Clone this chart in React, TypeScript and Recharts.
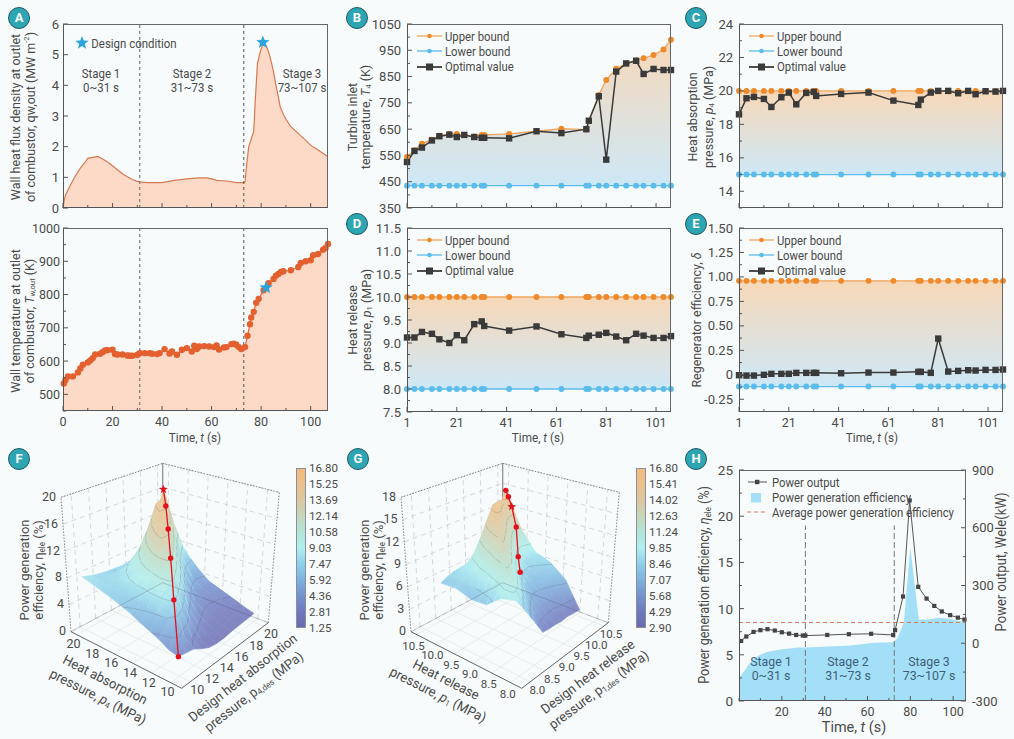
import React from "react";
import {
  Area,
  ComposedChart,
  Line,
  ReferenceDot,
  ReferenceLine,
  Scatter,
  ScatterChart,
  XAxis,
  YAxis,
} from "recharts";

// panel A
const fluxTimes = [0, 0.5, 1, 3, 5, 7, 9, 10, 12, 14, 16, 18, 20, 22, 24, 26, 28, 30, 31, 34, 40, 45, 50, 55, 58, 60, 62, 66, 70, 73, 73.5, 74.2, 75, 76, 77, 77.7, 78.5, 79.5, 80.5, 82, 83, 84, 85, 86, 87, 87.7, 89, 90, 91.8, 96.5, 100, 103, 107];
const fluxValues = [0, 0.25, 0.42, 0.75, 1.05, 1.3, 1.5, 1.62, 1.65, 1.68, 1.6, 1.5, 1.38, 1.25, 1.12, 1.02, 0.93, 0.87, 0.85, 0.83, 0.83, 0.9, 0.95, 0.98, 0.98, 0.95, 0.9, 0.88, 0.83, 0.83, 0.85, 1.45, 2.0, 2.25, 2.5, 3.6, 4.7, 5.05, 5.3, 5.3, 5.1, 4.8, 4.45, 4.0, 3.6, 3.3, 3.05, 2.9, 2.67, 2.32, 2.05, 1.89, 1.67];
const wallTimes = [0.3, 1, 2, 4, 6, 7, 8, 10, 11, 12, 13, 15, 16, 17, 18, 20, 21, 22, 24, 26, 27, 28, 30, 31, 33, 35, 36, 38, 39, 41, 43, 44, 46, 48, 50, 52, 53, 54, 55, 57, 59, 61, 62, 63, 65, 66, 68, 69, 70, 71, 72, 73.5, 74.5, 75.5, 76, 77, 78, 79, 81, 83, 85, 86, 87, 88, 89, 92, 95, 96, 98, 100, 101, 103, 105, 106, 107];
const wallTemps = [533, 543, 554, 554, 566, 578, 589, 596, 602, 609, 620, 622, 627, 632, 633, 634, 621, 620, 620, 617, 616, 616, 619, 624, 624, 624, 622, 621, 624, 636, 623, 629, 619, 634, 639, 629, 646, 636, 644, 645, 644, 642, 647, 635, 641, 642, 651, 652, 649, 642, 636, 642, 676, 711, 731, 748, 775, 787, 813, 834, 847, 857, 862, 868, 870, 873, 883, 895, 900, 903, 918, 922, 935, 940, 952];

// panels B-E share the sampling times
const optTimes = [1, 4, 7, 11, 14, 18, 21, 24, 28, 31, 32, 42, 53, 63, 73, 74, 78, 81, 85, 89, 93, 96, 100, 104, 107];
const turbineUpper = [545, 570, 595, 610, 625, 632, 632, 628, 622, 628, 628, 632, 642, 652, 648, 680, 780, 837, 880, 900, 912, 920, 932, 953, 990];
const turbineOpt = [525, 567, 580, 607, 623, 629, 620, 628, 620, 617, 617, 615, 642, 635, 650, 682, 775, 534, 869, 900, 910, 860, 879, 875, 875];
const absorbOpt = [18.6, 19.56, 19.64, 19.52, 19.04, 19.62, 19.9, 19.2, 19.88, 19.94, 19.7, 19.82, 19.9, 19.42, 19.16, 19.48, 19.9, 20, 20, 19.86, 20, 19.8, 19.98, 19.96, 20];
const releaseOpt = [9.12, 9.12, 9.24, 9.2, 9.08, 9.0, 9.17, 9.06, 9.41, 9.47, 9.37, 9.27, 9.36, 9.19, 9.11, 9.16, 9.18, 9.22, 9.14, 9.06, 9.2, 9.16, 9.11, 9.11, 9.15];
const regenOpt = [-0.004, -0.008, -0.008, 0, 0.01, 0.01, 0.01, 0.02, 0.02, 0.02, 0.02, 0.016, 0.023, 0.023, 0.03, 0.03, 0.02, 0.37, 0.033, 0.04, 0.047, 0.044, 0.05, 0.05, 0.054];

// panel F, rows p4 10..20, columns p4,des 10..20
const absorbAxis = [10, 11, 12, 13, 14, 15, 16, 17, 18, 19, 20];
const absorbSurface = [
  [2.7, 2.5, 2.3, 1.6, 1.0, 0.8, 0.8, 1.0, 1.1, 1.2, 1.3],
  [3.0, 5.4, 3.6, 2.6, 1.8, 1.4, 1.2, 1.3, 1.4, 1.5, 1.7],
  [3.8, 6.0, 8.1, 6.0, 3.8, 2.6, 2.0, 1.8, 1.8, 1.9, 2.2],
  [4.4, 6.2, 8.6, 10.0, 7.2, 4.4, 3.0, 2.4, 2.3, 2.4, 2.7],
  [5.0, 6.4, 8.4, 10.4, 11.8, 8.4, 5.0, 3.4, 2.9, 2.9, 3.2],
  [5.7, 6.6, 8.0, 9.8, 12.2, 13.0, 9.2, 5.4, 3.8, 3.5, 3.7],
  [6.2, 6.8, 7.8, 9.2, 11.4, 13.4, 14.0, 9.8, 6.0, 4.6, 4.8],
  [6.7, 7.0, 7.6, 8.4, 10.0, 12.2, 14.4, 14.8, 10.4, 6.8, 6.2],
  [7.1, 7.2, 7.4, 7.8, 8.6, 10.2, 12.6, 15.0, 15.5, 11.0, 8.0],
  [7.5, 7.4, 7.3, 7.3, 7.6, 8.2, 9.6, 12.0, 15.4, 16.0, 11.5],
  [7.9, 7.5, 7.2, 7.0, 6.9, 6.8, 6.8, 6.8, 8.2, 11.7, 16.3],
];
const absorbPathP = [10, 12, 14, 16, 18, 20];
const absorbPathDes = [10, 12, 14, 16, 18, 20];
const absorbPathEta = [2.7, 8.1, 11.8, 14, 15.5, 16.2];
const absorbBarLabels = ["16.80", "15.25", "13.69", "12.14", "10.58", "9.03", "7.47", "5.92", "4.36", "2.81", "1.25"];

// panel G, rows p1 8..10, columns p1,des 8..10
const releaseAxis = [8, 8.2, 8.4, 8.6, 8.8, 9, 9.2, 9.4, 9.6, 9.8, 10];
const releaseSurface = [
  [9.4, 8.0, 6.5, 5.0, 3.4, 3.3, 3.3, 3.2, 3.3, 3.2, 3.1],
  [9.1, 10.0, 8.2, 6.4, 5.2, 4.4, 4.2, 4.1, 4.2, 4.4, 4.7],
  [8.8, 10.4, 11.2, 8.6, 6.6, 5.6, 5.0, 5.0, 5.3, 5.8, 6.4],
  [8.0, 9.6, 11.6, 11.4, 8.6, 6.8, 6.0, 6.0, 6.3, 6.8, 7.2],
  [7.2, 8.8, 10.8, 12.4, 11.6, 8.6, 7.2, 6.8, 7.0, 7.5, 8.0],
  [7.1, 8.2, 10.0, 12.0, 13.4, 11.8, 9.0, 7.8, 7.6, 8.0, 8.4],
  [7.0, 8.0, 9.4, 11.0, 13.0, 14.0, 12.0, 9.6, 8.4, 8.5, 8.7],
  [7.3, 7.9, 9.0, 10.4, 12.0, 14.0, 14.8, 12.4, 10.0, 9.6, 10.0],
  [7.6, 8.0, 8.7, 9.6, 11.0, 13.0, 15.0, 15.3, 13.0, 11.0, 11.4],
  [7.5, 7.9, 8.4, 9.0, 10.0, 11.6, 13.6, 15.6, 15.9, 14.5, 13.8],
  [7.4, 7.8, 8.1, 8.2, 8.3, 8.6, 8.9, 10.0, 12.0, 14.0, 16.5],
];
const releasePathP = [8.4, 8.8, 9.2, 9.6, 9.8, 10];
const releasePathDes = [8.6, 9.0, 9.4, 9.72, 9.85, 10];
const releasePathEta = [10.8, 11.2, 13.6, 15.1, 15.9, 16.2];
const releaseBarLabels = ["16.80", "15.41", "14.02", "12.63", "11.24", "9.85", "8.46", "7.07", "5.68", "4.29", "2.90"];

// panel H
const effTimes = [0, 1, 3, 5, 7, 10, 13, 16, 20, 25, 27, 31, 42, 52, 63, 72, 74, 77, 80, 84, 89, 93, 97, 100, 104, 106];
const effValues = [2.6, 2.8, 3.4, 4.1, 4.6, 5.0, 5.3, 5.45, 5.6, 5.7, 5.8, 5.8, 5.9, 6.0, 6.3, 6.35, 6.8, 8.5, 16.6, 8.8, 8.85, 9.0, 8.95, 8.8, 8.6, 8.5];
const powerTimes = [1, 3.4, 6.8, 10, 13.3, 16.7, 20, 23.4, 26.7, 29.8, 31, 41.2, 51.3, 61.7, 72, 72.9, 76.6, 79.7, 83.7, 87.6, 91.2, 94.7, 98.6, 102.2, 105.3];
const powerValues = [12, 35, 59, 68, 73, 66, 57, 50, 43, 40, 40, 43, 47, 49, 43, 68, 243, 742, 293, 232, 194, 165, 146, 133, 123];

const TEXT = "#4a4a4a";
const AXIS = "#555";
const ORANGE = "#ee8a2b";
const ORANGE_LINE = "#f0a45c";
const BLUE = "#5cbcec";
const DARK = "#3a3a3a";
const STAR = "#2ba4dc";
const RED = "#e5101c";
const M = 44;

const range = (from: number, to: number, step: number) => {
  const out: number[] = [];
  for (let i = 0; from + i * step <= to + 1e-9; i++) out.push(+(from + i * step).toFixed(4));
  return out;
};

const starPoints = (cx: number, cy: number, r: number) => {
  const pts: string[] = [];
  for (let i = 0; i < 10; i++) {
    const rad = i % 2 ? r * 0.42 : r;
    const a = -Math.PI / 2 + (i * Math.PI) / 5;
    pts.push(`${cx + rad * Math.cos(a)},${cy + rad * Math.sin(a)}`);
  }
  return pts.join(" ");
};

const xTick = (majors: number[], labelled: boolean) => (p: any) => {
  const major = majors.includes(p.payload.value);
  return (
    <g key={p.index}>
      <line x1={p.x} x2={p.x} y1={p.y} y2={p.y - (major ? 5 : 3)} stroke={AXIS} strokeWidth={1} />
      {labelled && major && (
        <text x={p.x} y={p.y + 15} textAnchor="middle" fontSize={12.5} fill={TEXT}>
          {p.payload.value}
        </text>
      )}
    </g>
  );
};

const yTick = (majors: number[], format: (v: number) => string, right = false, size = 13, gap = 6) => (p: any) => {
  const major = majors.includes(p.payload.value);
  const dir = right ? -1 : 1;
  return (
    <g key={p.index}>
      <line x1={p.x} x2={p.x + dir * (major ? 5 : 3)} y1={p.y} y2={p.y} stroke={AXIS} strokeWidth={1} />
      {major && (
        <text x={p.x - dir * gap} y={p.y} textAnchor={right ? "start" : "end"} dominantBaseline="central" fontSize={size} fill={TEXT}>
          {format(p.payload.value)}
        </text>
      )}
    </g>
  );
};

function Label({ x, y, angle = 0, size = 13, sx = 0.96, color = TEXT, children }: any) {
  return (
    <div
      style={{
        position: "absolute",
        left: x,
        top: y,
        transform: `translate(-50%,-50%) rotate(${angle}deg) scaleX(${sx})`,
        whiteSpace: "nowrap",
        fontSize: size,
        color,
        lineHeight: 1,
      }}
    >
      {children}
    </div>
  );
}

const Sub = ({ children }: any) => <span style={{ fontSize: "0.62em", verticalAlign: "-0.2em", lineHeight: 0 }}>{children}</span>;

function Badge({ x, y, letter }: any) {
  return (
    <div
      style={{
        position: "absolute",
        left: x - 11,
        top: y - 11,
        width: 22,
        height: 22,
        borderRadius: 11,
        boxSizing: "border-box",
        border: "1px solid #1d5a66",
        background: "#2ea5b3",
        color: "#fff",
        fontWeight: 700,
        fontSize: 13,
        lineHeight: "20px",
        textAlign: "center",
      }}
    >
      {letter}
    </div>
  );
}

function Frame({ box }: any) {
  return (
    <div
      style={{
        position: "absolute",
        left: box.x,
        top: box.y,
        width: box.w,
        height: box.h,
        boxSizing: "border-box",
        border: `1px solid #666`,
        borderLeft: `1.5px solid ${AXIS}`,
        borderBottom: `1.5px solid ${AXIS}`,
        pointerEvents: "none",
      }}
    />
  );
}

const chartStyle = (box: any): React.CSSProperties => ({ position: "absolute", left: box.x - M, top: box.y - M });
// axes get a 1px band (a zero-sized axis draws nothing), the margins give it back
const chartSize = (box: any, rightAxis = false) => ({
  width: box.w + 2 * M,
  height: box.h + 2 * M,
  margin: { top: M, right: rightAxis ? M - 1 : M, bottom: M - 1, left: M - 1 },
});

const boundsTicks = range(1, 101, 10);
const boundsMajors = range(1, 101, 20);

function BoundsPanel({ box, id, opt, upper, lower, domain, ticks, majors, format, labelled }: any) {
  const rows = optTimes.map((t, i) => ({
    t,
    upper: Array.isArray(upper) ? upper[i] : upper,
    lower,
    opt: opt[i],
  }));
  return (
    <>
      <div style={chartStyle(box)}>
        <ComposedChart data={rows} {...chartSize(box)}>
          <defs>
            <linearGradient id={id} x1="0" y1="0" x2="0" y2="1">
              <stop offset="0%" stopColor="#f7d8b8" />
              <stop offset="100%" stopColor="#cee8f7" />
            </linearGradient>
          </defs>
          <XAxis
            dataKey="t"
            type="number"
            domain={[1, 107]}
            ticks={boundsTicks}
            interval={0}
            height={1}
            tickSize={0}
            tickMargin={0}
            axisLine={false}
            tickLine={false}
            tick={xTick(boundsMajors, labelled)}
          />
          <YAxis
            type="number"
            domain={domain}
            ticks={ticks}
            interval={0}
            width={1}
            tickSize={0}
            tickMargin={0}
            axisLine={false}
            tickLine={false}
            tick={yTick(majors, format)}
          />
          <Area
            dataKey={(d: any) => [d.lower, d.upper]}
            type="linear"
            stroke="none"
            fill={`url(#${id})`}
            fillOpacity={1}
            isAnimationActive={false}
          />
          <Line dataKey="upper" stroke={ORANGE_LINE} strokeWidth={1.3} dot={{ r: 2.3, fill: ORANGE, stroke: ORANGE }} isAnimationActive={false} />
          <Line dataKey="lower" stroke={BLUE} strokeWidth={1.3} dot={{ r: 2.3, fill: BLUE, stroke: BLUE }} isAnimationActive={false} />
          <Line
            dataKey="opt"
            stroke={DARK}
            strokeWidth={1.5}
            dot={(p: any) => <rect key={p.index} x={p.cx - 3.2} y={p.cy - 3.2} width={6.4} height={6.4} fill={DARK} />}
            isAnimationActive={false}
          />
        </ComposedChart>
      </div>
      <Frame box={box} />
      <BoundsLegend x={box.x + 10} y={box.y + 12} />
    </>
  );
}

function BoundsLegend({ x, y }: any) {
  const items = [
    { text: "Upper bound", stroke: ORANGE_LINE, fill: ORANGE, square: false },
    { text: "Lower bound", stroke: BLUE, fill: BLUE, square: false },
    { text: "Optimal value", stroke: DARK, fill: DARK, square: true },
  ];
  return (
    <>
      {items.map((it, i) => (
        <div key={it.text} style={{ position: "absolute", left: x, top: y + i * 15.4 - 8, height: 16, display: "flex", alignItems: "center" }}>
          <svg width={25} height={16} style={{ marginRight: 3 }}>
            <line x1={0} x2={25} y1={8} y2={8} stroke={it.stroke} strokeWidth={it.square ? 1.8 : 1.3} />
            {it.square ? <rect x={9} y={4.5} width={7} height={7} fill={it.fill} /> : <circle cx={12.5} cy={8} r={2.3} fill={it.fill} />}
          </svg>
          <span style={{ fontSize: 13, color: TEXT, whiteSpace: "nowrap", transform: "scaleX(0.87)", transformOrigin: "left center" }}>{it.text}</span>
        </div>
      ))}
    </>
  );
}

// 3D box drawn in a scatter chart whose axes run 1:1 with the pixels of the panel
const PANEL3D = { w: 340, h: 299 };
const BOX_FLOOR = { f: [181.7, 248.3], r: [268.3, 182.7], l: [71, 191.7], b: [162.7, 142.7] };
const BOX_TOP = { f: [173.3, 100], r: [279.3, 52.3], l: [61, 57.3], b: [162.7, 23.3] };

const project = (u: number, v: number, h: number) => {
  const bil = (q: any, k: number) =>
    (1 - u) * (1 - v) * q.f[k] + u * (1 - v) * q.r[k] + (1 - u) * v * q.l[k] + u * v * q.b[k];
  return {
    x: bil(BOX_FLOOR, 0) + (bil(BOX_TOP, 0) - bil(BOX_FLOOR, 0)) * h,
    y: bil(BOX_FLOOR, 1) + (bil(BOX_TOP, 1) - bil(BOX_FLOOR, 1)) * h,
  };
};

const COLOR_STOPS = ["#6a6aae", "#7079bf", "#7693cf", "#7eb2de", "#8ed0ea", "#aef0ef", "#b3e4d7", "#c6d7bb", "#dcc8a0", "#ebc18c", "#f5bb7c"];
const hexToRgb = (c: string) => [1, 3, 5].map((i) => parseInt(c.slice(i, i + 2), 16));
// the surface is a little see-through in the original, so it is mixed towards the page colour
const colorAt = (t: number) => {
  const s = Math.max(0, Math.min(0.9999, t)) * (COLOR_STOPS.length - 1);
  const i = Math.floor(s);
  const a = hexToRgb(COLOR_STOPS[i]);
  const b = hexToRgb(COLOR_STOPS[i + 1]);
  const m = a.map((v, k) => Math.round((v + (b[k] - v) * (s - i)) * 0.86 + 250 * 0.14));
  return `rgb(${m[0]},${m[1]},${m[2]})`;
};

const segment = (a: any, b: any) => ({ x: a.x, y: a.y, dx: b.x - a.x, dy: b.y - a.y });
const segmentShape = (stroke: string, width: number, dash?: string, opacity = 1) => (p: any) =>
  (
    <line
      x1={p.cx}
      y1={p.cy}
      x2={p.cx + p.payload.dx}
      y2={p.cy + p.payload.dy}
      stroke={stroke}
      strokeWidth={width}
      strokeDasharray={dash}
      opacity={opacity}
    />
  );
const textShape = (anchor: string, size: number) => (p: any) =>
  (
    <text x={p.cx} y={p.cy} textAnchor={anchor as any} dominantBaseline="central" fontSize={size} fill={TEXT}>
      {p.payload.label}
    </text>
  );

function Surface3D({ left, id, grid, axis, axisTicks, axisFormat, zTicks, zMax, pathP, pathDes, pathEta, starIndex, barLabels, tickSize, leftDrop }: any) {
  const pMin = axisTicks[0];
  const pMax = axisTicks[axisTicks.length - 1];
  const tOf = (p: number) => 0.1 + ((p - pMin) / (pMax - pMin)) * 0.85;
  const low = parseFloat(barLabels[barLabels.length - 1]) - 1;
  const high = parseFloat(barLabels[0]);
  const norm = (v: number) => (v - low) / (high - low);

  const cells: any[] = [];
  for (let i = axis.length - 2; i >= 0; i--) {
    for (let j = axis.length - 2; j >= 0; j--) {
      const corners = [
        [i, j],
        [i, j + 1],
        [i + 1, j + 1],
        [i + 1, j],
      ].map(([r, c]) => ({ ...project(tOf(axis[c]), tOf(axis[r]), grid[r][c] / zMax), val: grid[r][c] }));
      const lines: any[] = [];
      range(2.5, 16.5, 1.8).forEach((lev) => {
        const hits: any[] = [];
        corners.forEach((a, k) => {
          const b = corners[(k + 1) % 4];
          if ((a.val - lev) * (b.val - lev) < 0) {
            const m = (lev - a.val) / (b.val - a.val);
            hits.push({ x: a.x + (b.x - a.x) * m, y: a.y + (b.y - a.y) * m });
          }
        });
        if (hits.length >= 2) lines.push([hits[0], hits[1]]);
      });
      cells.push({ x: corners[0].x, y: corners[0].y, corners, lines, key: `${id}-${i}-${j}`, order: i + j });
    }
  }
  cells.sort((a, b) => b.order - a.order);

  const cellShape = (p: any) => {
    const { corners, lines, key, x, y } = p.payload;
    const ox = p.cx - x;
    const oy = p.cy - y;
    const lo = corners.reduce((m: any, c: any) => (c.val < m.val ? c : m));
    const hi = corners.reduce((m: any, c: any) => (c.val > m.val ? c : m));
    const mid = colorAt(norm((lo.val + hi.val) / 2));
    return (
      <g>
        <defs>
          <linearGradient id={key} gradientUnits="userSpaceOnUse" x1={lo.x + ox} y1={lo.y + oy} x2={hi.x + ox + 0.01} y2={hi.y + oy + 0.01}>
            <stop offset="0%" stopColor={colorAt(norm(lo.val))} />
            <stop offset="50%" stopColor={mid} />
            <stop offset="100%" stopColor={colorAt(norm(hi.val))} />
          </linearGradient>
        </defs>
        <polygon
          points={corners.map((c: any) => `${c.x + ox},${c.y + oy}`).join(" ")}
          fill={`url(#${key})`}
          stroke={mid}
          strokeWidth={0.7}
        />
        {lines.map((l: any, k: number) => (
          <line key={k} x1={l[0].x + ox} y1={l[0].y + oy} x2={l[1].x + ox} y2={l[1].y + oy} stroke="#555" strokeOpacity={0.45} strokeWidth={0.5} />
        ))}
      </g>
    );
  };

  const ticksT = axisTicks.map(tOf);
  const wallLines: any[] = [];
  zTicks.forEach((z: number) => {
    const h = z / zMax;
    wallLines.push(segment(project(0, 1, h), project(1, 1, h)));
    wallLines.push(segment(project(1, 1, h), project(1, 0, h)));
  });
  ticksT.forEach((t: number) => {
    wallLines.push(segment(project(t, 1, 0), project(t, 1, 1)));
    wallLines.push(segment(project(1, t, 0), project(1, t, 1)));
  });
  const floorLines: any[] = [];
  ticksT.forEach((t: number) => {
    floorLines.push(segment(project(t, 0, 0), project(t, 1, 0)));
    floorLines.push(segment(project(0, t, 0), project(1, t, 0)));
  });
  const topEdges = [
    segment(project(0, 1, 1), project(1, 1, 1)),
    segment(project(1, 1, 1), project(1, 0, 1)),
    segment(project(1, 0, 0), project(1, 0, 1)),
    segment(project(0, 1, 0), project(0, 1, 1)),
  ];
  const backEdge = [segment(project(1, 1, 0), project(1, 1, 1))];
  const frontEdges = [segment(project(0, 1, 0), project(0, 0, 0)), segment(project(0, 0, 0), project(1, 0, 0))];
  const backFloor = [segment(project(0, 1, 0), project(1, 1, 0)), segment(project(1, 1, 0), project(1, 0, 0))];
  const pathPoints = pathP.map((p: number, i: number) => ({ ...project(tOf(pathDes[i]), tOf(p), pathEta[i] / zMax), i }));
  const zLabels = zTicks.map((z: number) => {
    const pt = project(0, 1, z / zMax);
    return { x: pt.x - 5, y: pt.y - 1, label: z };
  });
  const leftLabels = axisTicks.map((p: number) => {
    const pt = project(0, tOf(p), 0);
    return { x: pt.x - 3, y: pt.y + leftDrop, label: axisFormat(p) };
  });
  const rightLabels = axisTicks.map((p: number) => {
    const pt = project(tOf(p), 0, 0);
    return { x: pt.x + 7, y: pt.y + 8, label: axisFormat(p) };
  });

  return (
    <>
      <div style={{ position: "absolute", left, top: 440 }}>
        <ScatterChart width={PANEL3D.w} height={PANEL3D.h} margin={{ top: 0, right: 0, bottom: 0, left: 0 }}>
          <XAxis dataKey="x" type="number" domain={[0, PANEL3D.w]} hide />
          <YAxis dataKey="y" type="number" domain={[0, PANEL3D.h]} reversed hide />
          <Scatter data={floorLines} shape={segmentShape("#dfe5e6", 0.7)} isAnimationActive={false} />
          <Scatter data={wallLines} shape={segmentShape("#c4c8ca", 0.7, "5 4")} isAnimationActive={false} />
          <Scatter data={topEdges} shape={segmentShape("#666", 0.8, "1.5 1.5")} isAnimationActive={false} />
          <Scatter data={backEdge} shape={segmentShape("#8a8a8a", 1.2)} isAnimationActive={false} />
          <Scatter data={frontEdges} shape={segmentShape("#555", 0.9)} isAnimationActive={false} />
          <Scatter data={cells} shape={cellShape} isAnimationActive={false} />
          <Scatter data={backFloor} shape={segmentShape("#445", 0.7, undefined, 0.35)} isAnimationActive={false} />
          <Scatter
            data={pathPoints}
            line={{ stroke: RED, strokeWidth: 1.3 }}
            lineType="joint"
            shape={(p: any) =>
              p.payload.i === starIndex ? (
                <polygon points={starPoints(p.cx, p.cy, 4.6)} fill={RED} />
              ) : (
                <circle cx={p.cx} cy={p.cy} r={2.7} fill={RED} />
              )
            }
            isAnimationActive={false}
          />
          <Scatter data={zLabels} shape={textShape("end", 12.5)} isAnimationActive={false} />
          <Scatter data={leftLabels} shape={textShape("middle", tickSize)} isAnimationActive={false} />
          <Scatter data={rightLabels} shape={textShape("middle", tickSize)} isAnimationActive={false} />
        </ScatterChart>
      </div>
      <div
        style={{
          position: "absolute",
          left: left + 296,
          top: 468,
          width: 10,
          height: 160,
          boxSizing: "border-box",
          border: "0.5px solid #8a8fa0",
          background: `linear-gradient(to top, ${COLOR_STOPS.join(",")})`,
        }}
      />
      {barLabels.map((t: string, i: number) => (
        <div key={t} style={{ position: "absolute", left: left + 309, top: 468 + i * 16 - 6, fontSize: 11.5, lineHeight: "12px", color: TEXT }}>
          {t}
        </div>
      ))}
    </>
  );
}

const PANEL_A = { x: 63, y: 24, w: 265, h: 184 };
const PANEL_A2 = { x: 63, y: 228, w: 265, h: 183 };
const PANEL_B = { x: 407, y: 24, w: 264, h: 184 };
const PANEL_C = { x: 739, y: 24, w: 264, h: 184 };
const PANEL_D = { x: 407, y: 228, w: 264, h: 184 };
const PANEL_E = { x: 739, y: 228, w: 264, h: 184 };
const PANEL_H = { x: 739, y: 470, w: 227, h: 231 };

const stageTicks = range(0, 100, 10);
const stageMajors = range(0, 100, 20);

export default function App() {
  const fluxRows = fluxTimes.map((t, i) => ({ t, v: fluxValues[i] }));
  const wallRows = wallTimes.map((t, i) => ({ t, v: wallTemps[i] }));
  const effRows = effTimes.map((t, i) => ({ t, eff: effValues[i] }));
  const powerRows = powerTimes.map((t, i) => ({ t, power: powerValues[i] }));
  const hRows = [...effRows, ...powerRows].sort((a, b) => a.t - b.t);
  const stageSx = 0.88;

  return (
    <div
      style={{
        position: "absolute",
        left: 0,
        top: 0,
        width: 1014,
        height: 739,
        overflow: "hidden",
        background: "#f7fbfb",
        fontFamily: "Roboto, sans-serif",
      }}
    >
      {/* A top */}
      <div style={chartStyle(PANEL_A)}>
        <ComposedChart data={fluxRows} {...chartSize(PANEL_A)}>
          <XAxis dataKey="t" type="number" domain={[0, 107]} ticks={stageTicks} interval={0} height={1} tickSize={0} tickMargin={0} axisLine={false} tickLine={false} tick={xTick(stageMajors, false)} />
          <YAxis type="number" domain={[0, 6]} ticks={range(0, 6, 1)} interval={0} width={1} tickSize={0} tickMargin={0} axisLine={false} tickLine={false} tick={yTick(range(0, 6, 1), String, false, 13, 4)} />
          <Area dataKey="v" type="linear" stroke="#d67a50" strokeWidth={1.2} fill="#fdd9c7" fillOpacity={1} isAnimationActive={false} />
          <ReferenceLine x={31} stroke="#666" strokeDasharray="3 3" />
          <ReferenceLine x={73} stroke="#555" strokeDasharray="3 3" />
          <ReferenceDot x={80.7} y={5.4} r={7} shape={(p: any) => <polygon points={starPoints(p.cx, p.cy, 7)} fill={STAR} />} />
        </ComposedChart>
      </div>
      <Frame box={PANEL_A} />
      <svg style={{ position: "absolute", left: 74, top: 35 }} width={16} height={16}>
        <polygon points={starPoints(8, 8, 7)} fill={STAR} />
      </svg>
      <Label x={134} y={43} sx={stageSx}>Design condition</Label>
      <Label x={101} y={73} sx={stageSx}>Stage 1</Label>
      <Label x={101} y={87} sx={stageSx}>0~31 s</Label>
      <Label x={192} y={73} sx={stageSx}>Stage 2</Label>
      <Label x={192} y={87} sx={stageSx}>31~73 s</Label>
      <Label x={302} y={73} sx={stageSx}>Stage 3</Label>
      <Label x={302} y={87} sx={stageSx}>73~107 s</Label>

      {/* A bottom */}
      <div style={chartStyle(PANEL_A2)}>
        <ComposedChart data={wallRows} {...chartSize(PANEL_A2)}>
          <XAxis dataKey="t" type="number" domain={[0, 107]} ticks={stageTicks} interval={0} height={1} tickSize={0} tickMargin={0} axisLine={false} tickLine={false} tick={xTick(stageMajors, true)} />
          <YAxis type="number" domain={[450, 1000]} ticks={range(450, 1000, 50)} interval={0} width={1} tickSize={0} tickMargin={0} axisLine={false} tickLine={false} tick={yTick(range(500, 1000, 100), String, false, 12.5, 3)} />
          <Area dataKey="v" type="linear" stroke="#e0673a" strokeWidth={1.2} fill="#fdd9c7" fillOpacity={1} dot={{ r: 2.6, fill: "#e4602f", stroke: "#e4602f" }} isAnimationActive={false} />
          <ReferenceLine x={31} stroke="#666" strokeDasharray="3 3" />
          <ReferenceLine x={73} stroke="#555" strokeDasharray="3 3" />
          <ReferenceDot x={82} y={821} r={7} shape={(p: any) => <polygon points={starPoints(p.cx, p.cy, 7)} fill={STAR} />} />
        </ComposedChart>
      </div>
      <Frame box={PANEL_A2} />
      <Label x={195} y={437} sx={0.9}>Time, <i>t</i> (s)</Label>

      <Label x={15} y={117} angle={-90}>Wall heat flux density at outlet</Label>
      <Label x={30} y={117} angle={-90}>of combustor, qw,out (MW m<sup style={{ fontSize: "0.62em", lineHeight: 0 }}>-2</sup>)</Label>
      <Label x={15} y={321} angle={-90}>Wall temperature at outlet</Label>
      <Label x={29} y={321} angle={-90}>of combustor, <i>T</i><Sub>w,out</Sub> (K)</Label>

      {/* B - E */}
      <BoundsPanel box={PANEL_B} id="gradB" opt={turbineOpt} upper={turbineUpper} lower={435} domain={[350, 1050]} ticks={range(350, 1050, 50)} majors={range(350, 1050, 100)} format={String} labelled={false} />
      <BoundsPanel box={PANEL_C} id="gradC" opt={absorbOpt} upper={20} lower={15} domain={[13, 24]} ticks={range(13, 24, 1)} majors={range(14, 24, 2)} format={String} labelled={false} />
      <BoundsPanel box={PANEL_D} id="gradD" opt={releaseOpt} upper={10} lower={8} domain={[7.5, 11.5]} ticks={range(7.5, 11.5, 0.25)} majors={range(7.5, 11.5, 0.5)} format={(v: number) => v.toFixed(1)} labelled />
      <BoundsPanel box={PANEL_E} id="gradE" opt={regenOpt} upper={0.96} lower={-0.12} domain={[-0.38, 1.5]} ticks={range(-0.25, 1.5, 0.125)} majors={range(-0.25, 1.5, 0.25)} format={(v: number) => (v === 0 ? "0" : v.toFixed(2))} labelled />

      <Label x={352} y={117} angle={-90}>Turbine inlet</Label>
      <Label x={365} y={117} angle={-90}>temperature, <i>T</i><Sub>4</Sub> (K)</Label>
      <Label x={692} y={117} angle={-90}>Heat absorption</Label>
      <Label x={708} y={117} angle={-90}>pressure, <i>p</i><Sub>4</Sub> (MPa)</Label>
      <Label x={352} y={320} angle={-90}>Heat release</Label>
      <Label x={366} y={320} angle={-90}>pressure, <i>p</i><Sub>1</Sub> (MPa)</Label>
      <Label x={696} y={320} angle={-90}>Regenerator efficiency, <i>δ</i></Label>
      <Label x={538} y={437} sx={0.9}>Time, <i>t</i> (s)</Label>
      <Label x={872} y={437} sx={0.9}>Time, <i>t</i> (s)</Label>

      {/* F */}
      <Surface3D left={0} id="surfF" grid={absorbSurface} axis={absorbAxis} axisTicks={[10, 12, 14, 16, 18, 20]} axisFormat={String} zTicks={[0, 4, 8, 12, 16, 20]} zMax={20} pathP={absorbPathP} pathDes={absorbPathDes} pathEta={absorbPathEta} starIndex={5} barLabels={absorbBarLabels} tickSize={12.5} leftDrop={9} />
      <Label x={25} y={570} angle={-90} size={13.5}>Power generation</Label>
      <Label x={39} y={570} angle={-90} size={13.5}>efficiency, η<Sub>ele</Sub> (%)</Label>
      <Label x={105} y={680} angle={27} size={13.5}>Heat absorption</Label>
      <Label x={98} y={697} angle={27} size={13.5}>pressure, <i>p</i><Sub>4</Sub> (MPa)</Label>
      <Label x={243} y={678} angle={-38} size={13.5}>Design heat absorption</Label>
      <Label x={254} y={692} angle={-38} size={13.5}>pressure, p<Sub>4,des</Sub> (MPa)</Label>

      {/* G */}
      <Surface3D left={340} id="surfG" grid={releaseSurface} axis={releaseAxis} axisTicks={[8, 8.5, 9, 9.5, 10, 10.5]} axisFormat={(v: number) => v.toFixed(1)} zTicks={[0, 3, 6, 9, 12, 15, 18]} zMax={18} pathP={releasePathP} pathDes={releasePathDes} pathEta={releasePathEta} starIndex={3} barLabels={releaseBarLabels} tickSize={11.5} leftDrop={11} />
      <Label x={365} y={570} angle={-90} size={13.5}>Power generation</Label>
      <Label x={379} y={570} angle={-90} size={13.5}>efficiency, η<Sub>ele</Sub> (%)</Label>
      <Label x={446} y={680} angle={27} size={13.5}>Heat release</Label>
      <Label x={438} y={695} angle={27} size={13.5}>pressure, <i>p</i><Sub>1</Sub> (MPa)</Label>
      <Label x={588} y={677} angle={-37} size={13.5}>Design heat release</Label>
      <Label x={599} y={690} angle={-37} size={13.5}>pressure, p<Sub>1,des</Sub> (MPa)</Label>

      {/* H */}
      <div style={chartStyle(PANEL_H)}>
        <ComposedChart data={hRows} {...chartSize(PANEL_H, true)}>
          <XAxis dataKey="t" type="number" domain={[0, 106]} ticks={stageTicks} interval={0} height={1} tickSize={0} tickMargin={0} axisLine={false} tickLine={false} tick={xTick(stageMajors.filter((v) => v > 0), true)} />
          <YAxis yAxisId="left" type="number" domain={[0, 25]} ticks={range(0, 25, 2.5)} interval={0} width={1} tickSize={0} tickMargin={0} axisLine={false} tickLine={false} tick={yTick(range(0, 25, 5), String, false, 13.5)} />
          <YAxis yAxisId="right" orientation="right" type="number" domain={[-300, 900]} ticks={range(-300, 900, 150)} interval={0} width={1} tickSize={0} tickMargin={0} axisLine={false} tickLine={false} tick={yTick(range(-300, 900, 300), String, true)} />
          <Area yAxisId="left" dataKey="eff" type="linear" connectNulls stroke="none" fill="#a3e0f8" fillOpacity={1} isAnimationActive={false} />
          <ReferenceLine yAxisId="left" segment={[{ x: 31, y: 0 }, { x: 31, y: 19 }]} stroke="#777" strokeDasharray="6 3" />
          <ReferenceLine yAxisId="left" segment={[{ x: 72.5, y: 0 }, { x: 72.5, y: 19 }]} stroke="#777" strokeDasharray="6 3" />
          <ReferenceLine yAxisId="left" y={8.5} stroke="#d9785a" strokeDasharray="4 3" />
          <Line
            yAxisId="right"
            dataKey="power"
            connectNulls
            stroke="#555"
            strokeWidth={1}
            dot={(p: any) =>
              p.payload.power == null ? <g key={p.index} /> : <rect key={p.index} x={p.cx - 2.1} y={p.cy - 2.1} width={4.2} height={4.2} fill="#444" />
            }
            isAnimationActive={false}
          />
        </ComposedChart>
      </div>
      <Frame box={PANEL_H} />
      <svg style={{ position: "absolute", left: 747, top: 474 }} width={22} height={46}>
        <line x1={1} x2={20} y1={8} y2={8} stroke="#555" />
        <rect x={8} y={5.8} width={4.4} height={4.4} fill="#444" />
        <rect x={4} y={19} width={10} height={9.5} fill="#a3e0f8" />
        <line x1={0} x2={21} y1={38} y2={38} stroke="#d9785a" strokeDasharray="4 3" />
      </svg>
      <div style={{ position: "absolute", left: 772, top: 475, fontSize: 13.5, lineHeight: "15px", color: TEXT, whiteSpace: "nowrap", transform: "scaleX(0.84)", transformOrigin: "left top" }}>
        <div>Power output</div>
        <div>Power generation efficiency</div>
        <div>Average power generation efficiency</div>
      </div>
      <Label x={771} y={661} size={13} sx={0.95} color="#3f5f78">Stage 1</Label>
      <Label x={771} y={675} size={13} sx={0.95} color="#3f5f78">0~31 s</Label>
      <Label x={848} y={661} size={13} sx={0.95} color="#3f5f78">Stage 2</Label>
      <Label x={848} y={675} size={13} sx={0.95} color="#3f5f78">31~73 s</Label>
      <Label x={929} y={661} size={13} sx={0.95} color="#3f5f78">Stage 3</Label>
      <Label x={929} y={675} size={13} sx={0.95} color="#3f5f78">73~107 s</Label>
      <Label x={704} y={585} angle={-90} size={14} sx={0.9}>Power generation efficiency, <i>η</i><Sub>ele</Sub> (%)</Label>
      <Label x={1001} y={562} angle={-90} size={14} sx={0.93}>Power output, Wele(kW)</Label>
      <Label x={854} y={727} size={15}>Time, <i>t</i> (s)</Label>

      <Badge x={19} y={18} letter="A" />
      <Badge x={357} y={18} letter="B" />
      <Badge x={696} y={18} letter="C" />
      <Badge x={357} y={224} letter="D" />
      <Badge x={696} y={224} letter="E" />
      <Badge x={19} y={459} letter="F" />
      <Badge x={358} y={459} letter="G" />
      <Badge x={696} y={459} letter="H" />
    </div>
  );
}
